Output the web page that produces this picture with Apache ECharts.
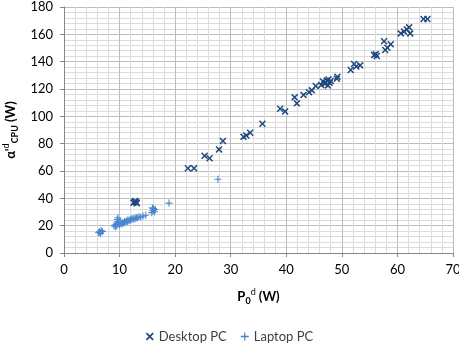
<!DOCTYPE html>
<html><head><meta charset="utf-8">
<script src="https://cdn.jsdelivr.net/npm/echarts@6/dist/echarts.min.js"></script>
<style>html,body{margin:0;padding:0;background:#fff}#c{width:459px;height:345px}</style>
</head><body><div id="c"></div>
<script>
const seriesNames = ['Desktop PC', 'Laptop PC'];
const desktop = [[12.5,36.8],[12.8,38],[13.0,37.2],[13.1,36.4],[12.7,37.5],
[22.3,62],[23.4,62],[25.3,71.2],[26.2,69.3],[27.9,75.8],[28.6,82],[32.3,85],[32.8,86],[33.5,88],[35.7,94.6],[38.9,105.6],[39.8,103.6],[41.5,113.9],[41.9,109.5],[43.1,115.7],[44.1,117.7],[44.6,119],[45.3,122.2],[46.3,123],[46.6,125.5],[46.9,123.8],[47.1,124.6],[47.3,126.3],[47.5,122.5],[47.8,124.5],[48.0,125.8],[47.6,127],[49.2,129],[49.1,127.5],[51.6,133.9],[52.2,138.3],[52.6,136.5],[53.3,137.3],[55.8,144.8],[56.3,144.1],[56.1,145.5],[57.6,154.9],[57.8,148.5],[58.2,150.2],[58.8,152.7],[60.6,160.7],[61.2,162],[61.7,163.6],[62.1,165.1],[62.3,160.7],[64.7,171.2],[65.4,171.2]];
const laptop = [[6.2,14.8],[6.4,15.5],[6.6,14.3],[6.7,16.2],[6.5,15.0],[6.9,15.8],
[9.0,19.8],[9.2,20.5],[9.3,19.2],[9.4,21.0],[9.5,20.0],[9.6,22.5],[9.6,24.5],[9.7,25.8],[9.8,21.5],[9.9,23.0],[10.0,20.5],[10.1,21.8],[10.2,22.8],[10.4,21.2],[10.5,22.2],[10.7,22.0],[10.9,23.0],[11.0,22.5],[11.2,23.5],[11.4,23.0],[11.5,24.2],[11.7,23.6],[11.9,24.5],[12.0,24.0],[12.2,25.2],[12.4,24.6],[12.6,25.5],[12.8,25.0],[13.0,26.0],[13.2,25.6],[13.5,26.5],[13.8,26.2],[14.2,27.0],[14.7,27.6],
[15.8,29.5],[16.0,31.0],[16.1,32.5],[16.3,30.2],[16.4,31.8],[15.9,33.0],
[18.9,36.5],[27.7,54]];
const xTicks = [0,10,20,30,40,50,60,70];
const yTicks = [0,20,40,60,80,100,120,140,160,180];

const xPath = 'path://M0,1.5L1.5,0L5,3.5L8.5,0L10,1.5L6.5,5L10,8.5L8.5,10L5,6.5L1.5,10L0,8.5L3.5,5Z';
const thinPlus = 'path://M4.2,0H5.8V4.2H10V5.8H5.8V10H4.2V5.8H0V4.2H4.2Z';
const font = 'Lato, "Open Sans", sans-serif';
const richStyles = {
  a: {fontSize: 13, fontWeight: 'bold', color: '#000', fontFamily: font, lineHeight: 18},
  sub: {fontSize: 9, fontWeight: 'bold', color: '#000', fontFamily: font, verticalAlign: 'bottom', lineHeight: 18},
  sup: {fontSize: 9, color: '#000', fontFamily: font, verticalAlign: 'top', lineHeight: 18}
};
const chart = echarts.init(document.getElementById('c'));
chart.setOption({
  animation: false,
  textStyle: {fontFamily: font},
  grid: {left: 64, right: 6, top: 7, bottom: 92, outerBoundsMode: 'none', containLabel: false},
  legend: {
    top: 325, left: 'center', itemWidth: 8, itemHeight: 8, itemGap: 14,
    textStyle: {fontSize: 13, color: '#404040', fontFamily: font},
    data: seriesNames
  },
  xAxis: {
    type: 'value', min: xTicks[0], max: xTicks[xTicks.length-1], interval: 10,
    name: '{a|P}{sub|0}{sup|d}{a| (W)}', nameLocation: 'middle', nameGap: 35,
    nameTextStyle: {rich: richStyles},
    axisLine: {lineStyle: {color: '#868686'}},
    axisTick: {show: true, length: 4, lineStyle: {color: '#868686'}},
    axisLabel: {fontSize: 13, color: '#000', margin: 10},
    splitLine: {lineStyle: {color: '#bdbdbd'}},
    minorTick: {show: false, splitNumber: 5},
    minorSplitLine: {show: true, lineStyle: {color: '#dcdcdc'}}
  },
  yAxis: {
    type: 'value', min: yTicks[0], max: yTicks[yTicks.length-1], interval: 20,
    name: '{a|α\'}{sup|d}{sub|CPU}{a| (W)}', nameLocation: 'middle', nameGap: 29, nameRotate: 90,
    nameTextStyle: {rich: richStyles},
    axisLine: {show: true, lineStyle: {color: '#868686'}},
    axisTick: {show: true, length: 4, lineStyle: {color: '#868686'}},
    axisLabel: {fontSize: 13, color: '#000', margin: 11},
    splitLine: {lineStyle: {color: '#bdbdbd'}},
    minorTick: {show: false, splitNumber: 5},
    minorSplitLine: {show: true, lineStyle: {color: '#dcdcdc'}}
  },
  series: [
    {name: seriesNames[0], type: 'scatter', data: desktop, symbol: xPath, symbolSize: 7,
     itemStyle: {color: '#1f497d', opacity: 1}},
    {name: seriesNames[1], type: 'scatter', data: laptop, symbol: thinPlus, symbolSize: 7,
     itemStyle: {color: '#4a86d0', opacity: 1}}
  ]
});
</script></body></html>
